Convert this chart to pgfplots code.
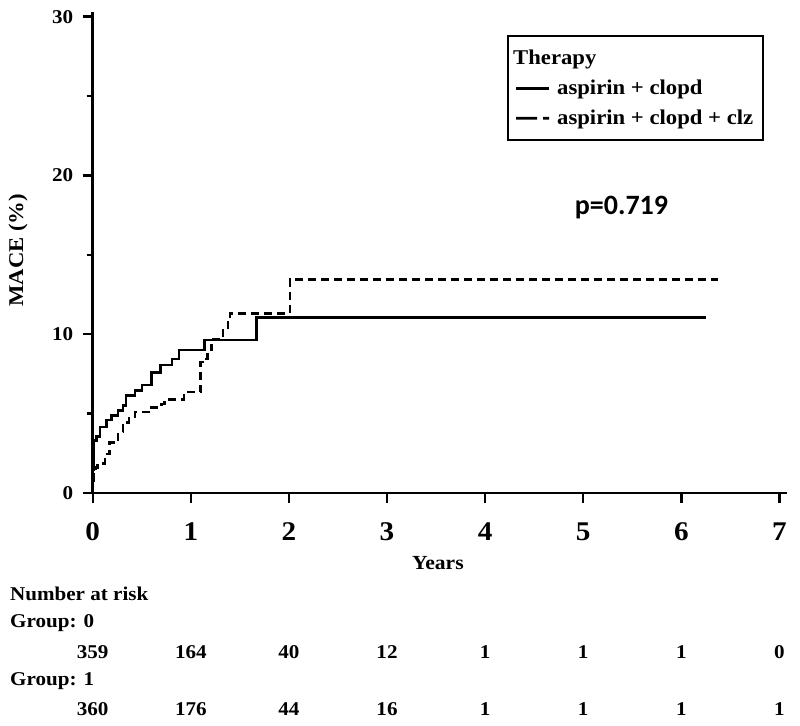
\documentclass[border=0pt]{standalone}
\usepackage{fontspec}
\setmainfont{Liberation Serif}[FakeStretch=1.08]
\newfontfamily\carlito{Carlito}
\usepackage{pgfplots}
\pgfplotsset{compat=1.18}
\pgfplotsset{
  solidleg/.style={legend image code/.code={\path[fill=black, draw=none, solid] (0pt,-1.3pt) rectangle (33pt,1.3pt);}},
  dashleg/.style={legend image code/.code={\path[fill=black, draw=none, solid] (0pt,-1.3pt) rectangle (21pt,1.3pt) (27pt,-1.3pt) rectangle (33pt,1.3pt);}},
}
\newcommand{\tabfont}{\fontsize{19.5}{22}\selectfont\bfseries}
\begin{document}
\begin{tikzpicture}
\begin{axis}[
  scale only axis, width=694.3pt, height=481pt,
  xmin=0, xmax=7.08, ymin=0, ymax=30.3,
  axis x line*=bottom, axis y line*=left,
  axis line style={line width=2.8pt, -},
  xtick={0,...,7}, ytick={0,10,20,30}, minor ytick={5,15,25},
  tick align=outside, major tick length=10pt, minor tick length=6pt,
  tick style={line width=2.4pt, black},
  /pgf/number format/assume math mode=true,
  xticklabel style={font=\fontsize{27}{29}\selectfont\bfseries, yshift=-16pt},
  yticklabel style={font=\fontsize{19.5}{21}\selectfont\bfseries, xshift=-6pt},
  xlabel={Years}, ylabel={MACE (\%)},
  xlabel style={at={(rel axis cs:0.497,-0.146)}, anchor=center, font=\fontsize{20}{22}\selectfont\bfseries},
  ylabel style={at={(rel axis cs:-0.1076,0.5046)}, anchor=center, font=\fontsize{21}{23}\selectfont\bfseries},
  clip=false,
  legend cell align=left,
  legend style={at={(axis cs:4.225,28.84)}, anchor=north west, draw=black, line width=2pt,
    font=\fontsize{21}{23}\selectfont\bfseries, inner xsep=8pt, inner ysep=12pt, row sep=10pt, column sep=6pt},
]
\addlegendimage{empty legend}
\addplot[const plot, mark=none, line width=2.5pt, black, solidleg] coordinates {
(0,0) (0.004,1.5) (0.008,2.5) (0.015,3.3) (0.04,3.55) (0.075,4.15) (0.14,4.6) (0.19,4.9)
(0.26,5.2) (0.31,5.5) (0.34,6.15) (0.43,6.45) (0.50,6.8) (0.60,7.6) (0.69,8.05) (0.81,8.45)
(0.88,9.0) (1.14,9.65) (1.67,11.05) (6.25,11.05)};
\addplot[const plot, mark=none, line width=2.5pt, black, dash pattern=on 8pt off 5pt, dashleg] coordinates {
(0,0) (0.004,0.8) (0.01,1.3) (0.03,1.6) (0.05,1.85) (0.125,2.45) (0.17,3.2) (0.26,3.85)
(0.31,4.45) (0.37,4.8) (0.43,5.1) (0.60,5.4) (0.70,5.6) (0.73,5.9) (0.93,6.35) (1.10,8.25)
(1.16,8.45) (1.17,9.0) (1.21,9.7) (1.33,10.25) (1.38,10.85) (1.40,11.3) (2.01,13.45) (6.37,13.45)};
\legend{\hspace{-44pt}Therapy, aspirin + clopd, aspirin + clopd + clz}
% number at risk
\addplot[forget plot, draw=none, nodes near coords, point meta=explicit symbolic,
  every node near coord/.append style={anchor=center, font=\tabfont}]
  coordinates {(0,-10.04)[359] (1,-10.04)[164] (2,-10.04)[40] (3,-10.04)[12] (4,-10.04)[1] (5,-10.04)[1] (6,-10.04)[1] (7,-10.04)[0]};
\addplot[forget plot, draw=none, nodes near coords, point meta=explicit symbolic,
  every node near coord/.append style={anchor=center, font=\tabfont}]
  coordinates {(0,-13.63)[360] (1,-13.63)[176] (2,-13.63)[44] (3,-13.63)[16] (4,-13.63)[1] (5,-13.63)[1] (6,-13.63)[1] (7,-13.63)[1]};
\node[anchor=west, font=\tabfont, inner sep=0pt] at (axis cs:-0.843,-6.32) {Number at risk};
\node[anchor=west, font=\tabfont, inner sep=0pt] at (axis cs:-0.843,-8.21) {Group: 0};
\node[anchor=west, font=\tabfont, inner sep=0pt] at (axis cs:-0.843,-11.87) {Group: 1};
\node[font=\carlito\bfseries\fontsize{28}{30}\selectfont] at (axis cs:5.39,17.97) {p=0.719};
\path (axis cs:-0.945,-14.64) rectangle (axis cs:7.21,31.05);
\end{axis}
\end{tikzpicture}
\end{document}
